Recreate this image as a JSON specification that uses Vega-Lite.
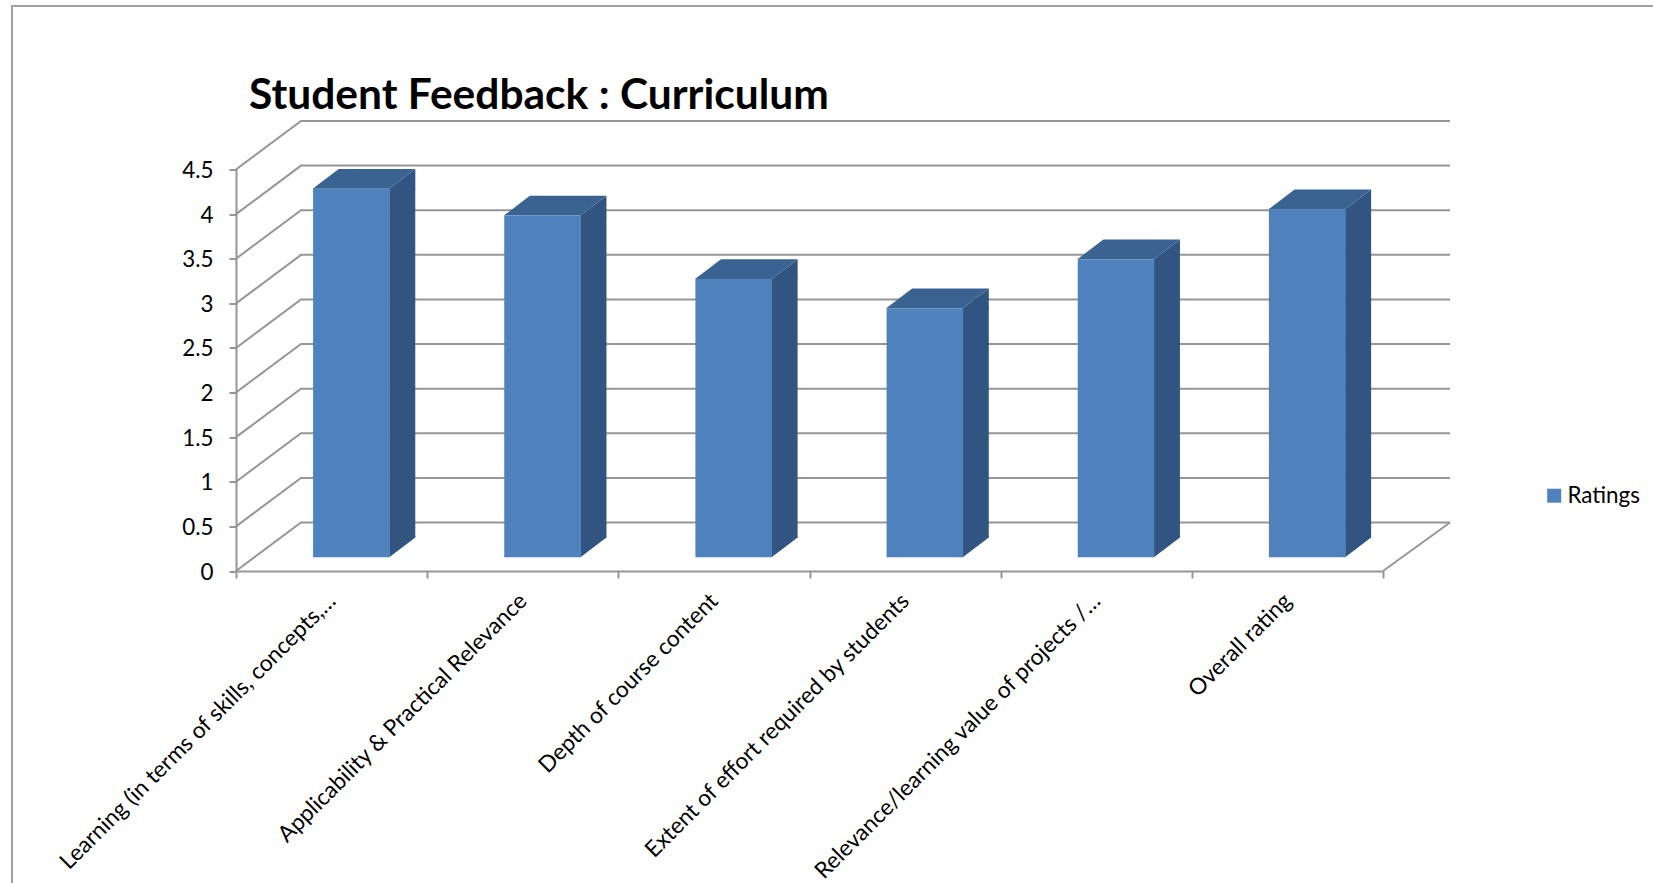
{
"$schema":"https://vega.github.io/schema/vega-lite/v6.json",
"width":1147,"height":401.5,
"autosize":{"type":"none"},
"padding":{"left":236,"top":169.5,"right":270,"bottom":312},
"background":"white",
"title":{"text":"Student Feedback : Curriculum","anchor":"start","frame":"group","dx":13,"dy":115,"offset":0,"font":"Lato","fontWeight":"bold","fontSize":42.5,"color":"#000000"},
"config":{"view":{"stroke":null},"axis":{"title":null,"grid":false}},
"datasets":{
"ratings":[
{"criterion":"Learning (in terms of skills, concepts,…","rating":4.13,"series":"Ratings"},
{"criterion":"Applicability & Practical Relevance","rating":3.83,"series":"Ratings"},
{"criterion":"Depth of course content","rating":3.12,"series":"Ratings"},
{"criterion":"Extent of effort required by students","rating":2.79,"series":"Ratings"},
{"criterion":"Relevance/learning value of projects /…","rating":3.34,"series":"Ratings"},
{"criterion":"Overall rating","rating":3.90,"series":"Ratings"}
],
"ticks":[{"t":0},{"t":0.5},{"t":1},{"t":1.5},{"t":2},{"t":2.5},{"t":3},{"t":3.5},{"t":4},{"t":4.5}]
},
"layer":[
{"data":{"name":"ticks"},"transform":[{"filter":"datum.t==4.5"}],
 "mark":{"type":"point","shape":"M-319.6,713.5L-319.6,-163.5L1321.4,-163.5","size":4,"filled":false,"stroke":"#a0a0a0","strokeWidth":2,"opacity":1},
 "encoding":{
  "x":{"datum":"Learning (in terms of skills, concepts,…","scale":{"domain":["Learning (in terms of skills, concepts,…","Applicability & Practical Relevance","Depth of course content","Extent of effort required by students","Relevance/learning value of projects /…","Overall rating"],"paddingInner":0,"paddingOuter":0},
   "axis":{"title":null,"tickBand":"extent","domainColor":"#969696","domainWidth":2,"tickColor":"#969696","tickWidth":2,"tickSize":7,"labelAngle":-45,"labelAlign":"right","labelBaseline":"middle","labelPadding":19,"labelOverlap":false,"labelLimit":600,"labelFont":"Lato","labelFontSize":22.7,"labelColor":"#000000","grid":false}},
  "y":{"field":"t","type":"quantitative","scale":{"domain":[0,4.5]},
   "axis":{"title":null,"values":[0,0.5,1,1.5,2,2.5,3,3.5,4,4.5],"format":"~g","domainColor":"#969696","domainWidth":2,"tickColor":"#969696","tickWidth":2,"tickSize":7,"labelPadding":16,"labelOffset":1,"labelFont":"Lato","labelFontSize":22.4,"labelColor":"#000000","grid":false}}}},
{"data":{"name":"ticks"},
 "mark":{"type":"point","shape":"M-95.6,0L-30.6,-48.5L1118.4,-48.5","size":4,"filled":false,"stroke":"#969696","strokeWidth":2,"opacity":1},
 "encoding":{"x":{"datum":"Learning (in terms of skills, concepts,…"},"y":{"field":"t","type":"quantitative"}}},
{"data":{"name":"ticks"},"transform":[{"filter":"datum.t==0"}],
 "mark":{"type":"point","shape":"M95.6,0L162.6,-48.5","size":4,"filled":false,"stroke":"#969696","strokeWidth":2,"opacity":1},
 "encoding":{"x":{"datum":"Overall rating"},"y":{"field":"t","type":"quantitative"}}},
{"data":{"name":"ratings"},
 "mark":{"type":"bar","width":26,"fill":"#325480","xOffset":70.7,"yOffset":-13.7,"y2Offset":-33.5},
 "encoding":{"x":{"field":"criterion","type":"nominal"},"y":{"field":"rating","type":"quantitative"},"y2":{"datum":0}}},
{"data":{"name":"ratings"},
 "mark":{"type":"point","shape":"M57.7,-13.7L83.7,-33.5L83.7,-12.7L57.7,-12.7Z","size":4,"filled":true,"fill":"#325480","opacity":1},
 "encoding":{"x":{"field":"criterion","type":"nominal"},"y":{"field":"rating","type":"quantitative"}}},
{"data":{"name":"ratings"},
 "mark":{"type":"point","shape":"M57.7,-13.7L83.7,-33.5L83.7,-34.5L57.7,-34.5Z","size":4,"filled":true,"fill":"#325480","opacity":1},
 "encoding":{"x":{"field":"criterion","type":"nominal"},"y":{"datum":0}}},
{"data":{"name":"ratings"},
 "mark":{"type":"point","shape":"M-18.9,-13.7L57.7,-13.7L83.7,-33.5L7.1,-33.5Z","size":4,"filled":true,"fill":"#3b6391","opacity":1},
 "encoding":{"x":{"field":"criterion","type":"nominal"},"y":{"field":"rating","type":"quantitative"}}},
{"data":{"name":"ratings"},
 "mark":{"type":"bar","width":76.6,"xOffset":19.8,"yOffset":-13.7,"y2Offset":-13.7},
 "encoding":{
  "x":{"field":"criterion","type":"nominal"},
  "y":{"field":"rating","type":"quantitative"},
  "y2":{"datum":0},
  "color":{"field":"series","type":"nominal","scale":{"domain":["Ratings"],"range":["#4f81bd"]},"legend":{"title":null,"orient":"none","legendX":1307,"legendY":315,"symbolType":"square","symbolSize":196,"symbolStrokeWidth":0,"labelFont":"Lato","labelFontSize":22.4,"labelColor":"#000000","labelOffset":2}}
 }}
]
}
